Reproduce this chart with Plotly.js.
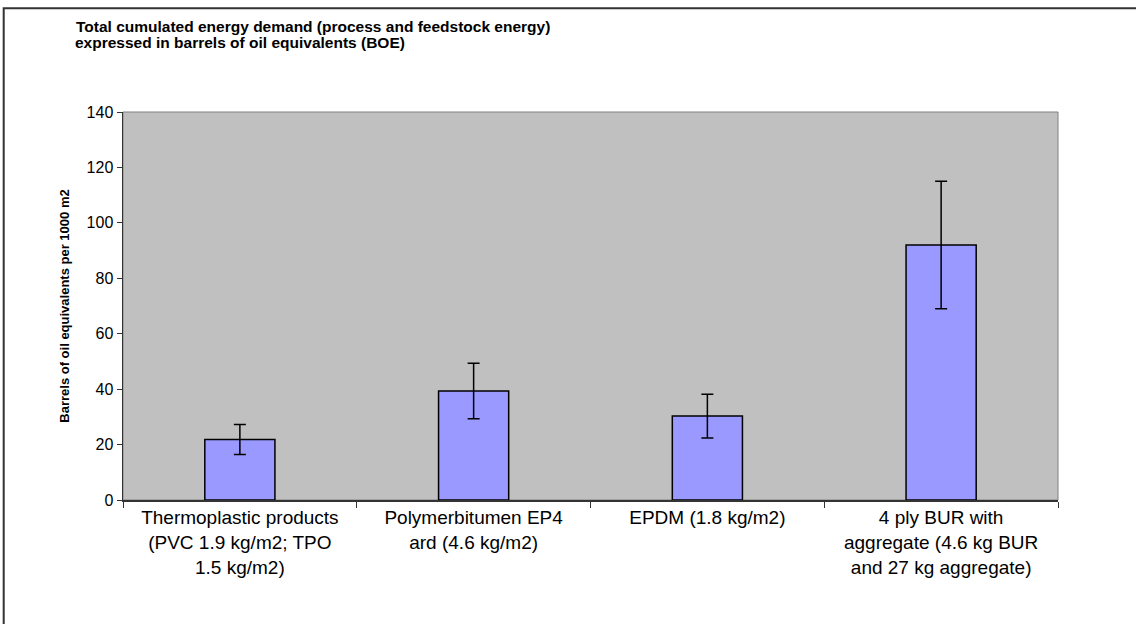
<!DOCTYPE html>
<html>
<head>
<meta charset="utf-8">
<script src="https://cdn.plot.ly/plotly-3.0.1.min.js"></script>
<style>
  html, body { margin: 0; padding: 0; background: #fff; }
  #chart { width: 1136px; height: 624px; }
</style>
</head>
<body>
<div id="chart"></div>
<script>
const categories = [
  "Thermoplastic products<br>(PVC 1.9 kg/m2; TPO<br>1.5 kg/m2)",
  "Polymerbitumen EP4<br>ard (4.6 kg/m2)",
  "EPDM (1.8 kg/m2)",
  "4 ply BUR with<br>aggregate (4.6 kg BUR<br>and 27 kg aggregate)"
];
const boeValues = [21.8, 39.3, 30.3, 92];
const boeErrors = [5.4, 10, 7.9, 23];
const yTickValues = [0, 20, 40, 60, 80, 100, 120, 140];

const titleLine1 = "Total cumulated energy demand (process and feedstock energy)";
const titleLine2 = "expressed in barrels of oil equivalents (BOE)";
const yTitle = "Barrels of oil equivalents per 1000 m2";

const FONT = '"Liberation Sans", Arial, sans-serif';

const trace = {
  type: 'bar',
  x: categories,
  y: boeValues,
  marker: { color: '#9999FF', line: { color: '#000000', width: 1.5 } },
  error_y: { type: 'data', array: boeErrors, visible: true, color: '#000000', thickness: 1.5, width: 6 },
  hoverinfo: 'x+y'
};

const layout = {
  width: 1136,
  height: 624,
  paper_bgcolor: '#ffffff',
  plot_bgcolor: '#C0C0C0',
  margin: { l: 123, r: 78, t: 112, b: 124, pad: 0 },
  font: { family: FONT, color: '#000000' },
  showlegend: false,
  bargap: 0.7,
  title: {
    text: '<b>' + titleLine1 + '</b>',
    font: { family: FONT, size: 15.5, color: '#000000' },
    xref: 'container', yref: 'container',
    x: 76 / 1136, xanchor: 'left',
    y: 1 - 21 / 624, yanchor: 'top'
  },
  annotations: [{
    text: '<b>' + titleLine2 + '</b>',
    xref: 'paper', yref: 'paper',
    x: (73 - 123) / 935, xanchor: 'left',
    y: (500.5 - 53) / 388.5, yanchor: 'bottom',
    showarrow: false,
    font: { family: FONT, size: 15.5, color: '#000000' }
  }],
  xaxis: {
    type: 'category',
    tickson: 'boundaries',
    ticks: 'outside',
    ticklen: 6,
    tickwidth: 1,
    tickcolor: '#333333',
    showline: true,
    linecolor: '#333333',
    linewidth: 1.5,
    showgrid: false,
    zeroline: false,
    tickfont: { family: FONT, size: 19, color: '#000000' },
    tickangle: 0,
    automargin: false
  },
  yaxis: {
    range: [0, 140],
    tickvals: yTickValues,
    ticks: 'outside',
    ticklen: 5,
    tickwidth: 1,
    tickcolor: '#333333',
    showline: true,
    linecolor: '#333333',
    linewidth: 1.5,
    showgrid: false,
    zeroline: false,
    tickfont: { family: FONT, size: 16, color: '#000000' },
    automargin: false,
    title: {
      text: '<b>' + yTitle + '</b>',
      font: { family: FONT, size: 13, color: '#000000' },
      standoff: 14
    }
  },
  shapes: [
    {
      type: 'rect', xref: 'paper', yref: 'paper',
      x0: 0, x1: 1, y0: 0, y1: 1,
      line: { color: '#808080', width: 1 },
      layer: 'below'
    },
    {
      type: 'rect', xref: 'paper', yref: 'paper',
      x0: (3.7 - 123) / 935, x1: (1145 - 123) / 935,
      y0: (500.5 - 640) / 388.5, y1: (500.5 - 8) / 388.5,
      line: { color: '#333333', width: 2 },
      layer: 'above'
    }
  ]
};

Plotly.newPlot('chart', [trace], layout, { staticPlot: true, displayModeBar: false });
</script>
</body>
</html>
